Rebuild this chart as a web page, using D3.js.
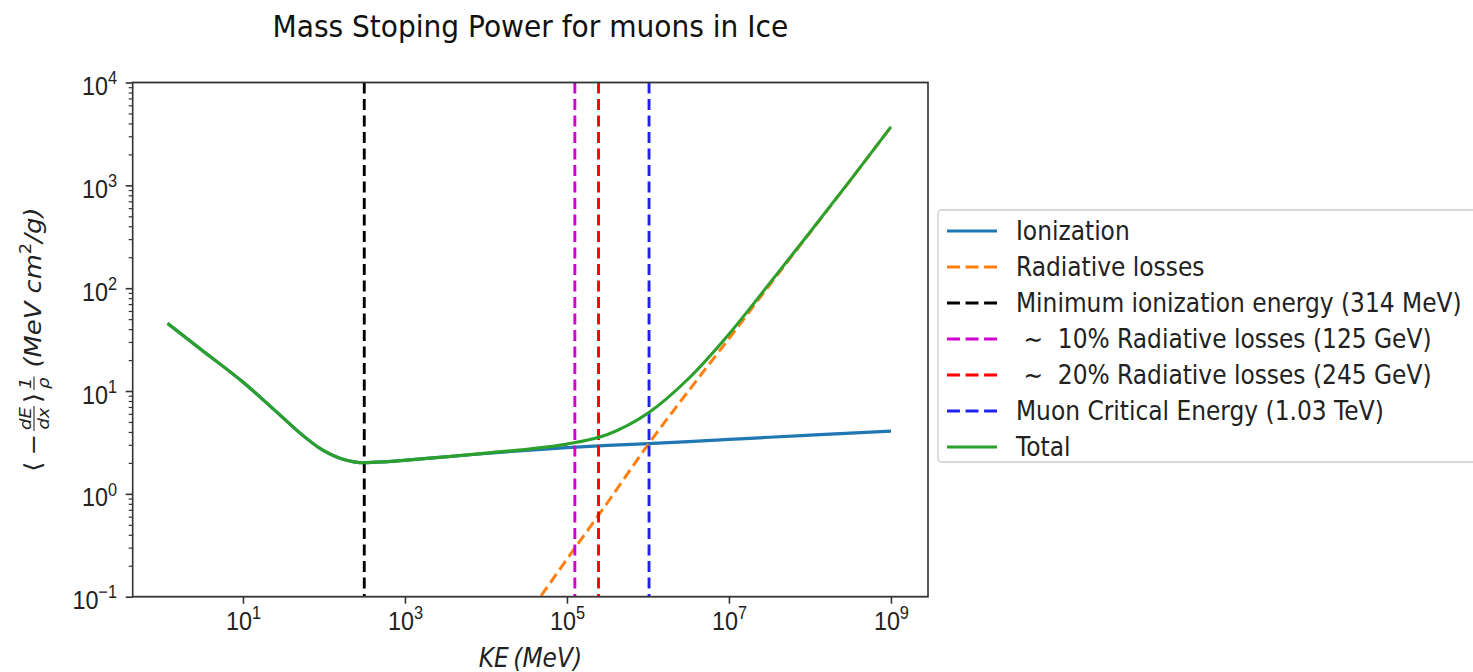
<!DOCTYPE html>
<html><head><meta charset="utf-8">
<script src="https://cdn.jsdelivr.net/npm/d3@7"></script>
<style>body{margin:0;background:#fff;} svg{display:block;font-family:"DejaVu Sans",sans-serif;}</style>
</head><body><svg id="c" width="1473" height="672"></svg>
<script>
// ---- data ----
const keIon = [1.17, 3.16, 10, 23.7, 61.1, 84.3, 118.6, 166.7, 234, 314, 562, 1050, 3160, 1e4, 3.16e4, 1e5, 3.16e5, 1e6, 3.16e6, 1e7, 3.16e7, 1e8, 3.16e8, 1e9];
const ionization = [45.5, 24.7, 12.2, 6.70, 3.45, 2.85, 2.44, 2.18, 2.05, 2.01, 2.05, 2.13, 2.29, 2.47, 2.65, 2.82, 2.96, 3.08, 3.22, 3.38, 3.55, 3.72, 3.90, 4.07];
const total = [45.5, 24.7, 12.2, 6.70, 3.45, 2.85, 2.44, 2.18, 2.05, 2.01, 2.05, 2.13, 2.29, 2.49, 2.71, 3.05, 3.78, 6.09, 13.2, 35.8, 111, 351, 1126, 3704];
const keRad = [1e4, 3.16e4, 1e5, 3.16e5, 1e6, 3.16e6, 1e7, 3.16e7, 1e8, 3.16e8, 1e9];
const radiative = [0.0178, 0.0645, 0.232, 0.822, 3.01, 10.0, 32.4, 107, 347, 1122, 3700];
const vlineEnergies = [314, 1.25e5, 2.45e5, 1.03e6];
const xTicks = [1e1, 1e3, 1e5, 1e7, 1e9];
const yTicks = [1e-1, 1e0, 1e1, 1e2, 1e3, 1e4];
const legendLabels = ["Ionization", "Radiative losses", "Minimum ionization energy (314 MeV)",
  " \u223C  10% Radiative losses (125 GeV)", " \u223C  20% Radiative losses (245 GeV)",
  "Muon Critical Energy (1.03 TeV)", "Total"];
const titleText = "Mass Stoping Power for muons in Ice";

// ---- styles ----
const C = {ion:"#1f77b4", rad:"#ff7f0e", k:"#000000", m:"#d000d0", r:"#ff0000", b:"#2020f0", tot:"#2ca02c"};
const vColors = [C.k, C.m, C.r, C.b];
const F = 0.905;               // horizontal compression of the original picture
const L = 132.7/F, R = 928/F, T = 82.5, B = 596.7;
const FS = 25.8;
const LWD = 3.2;
const DASH = "11,5.5";

const svg = d3.select("#c");
const g = svg.append("g").attr("transform", `scale(${F},1)`);

const minDom = Math.pow(10,-0.362), maxDom = Math.pow(10,9.457);
const x = d3.scaleLog().domain([minDom, maxDom]).range([L, R]);
const y = d3.scaleLog().domain([0.1, 1e4]).range([B, T]);

g.append("defs").append("clipPath").attr("id","clip")
 .append("rect").attr("x",L).attr("y",T).attr("width",R-L).attr("height",B-T);

const line = d3.line().x(d=>x(d[0])).y(d=>y(d[1])).curve(d3.curveMonotoneX);
const plot = g.append("g").attr("clip-path","url(#clip)");

plot.append("path").datum(d3.zip(keIon, ionization)).attr("d", line)
  .attr("fill","none").attr("stroke",C.ion).attr("stroke-width",LWD);
plot.append("path").datum(d3.zip(keRad, radiative)).attr("d", line)
  .attr("fill","none").attr("stroke",C.rad).attr("stroke-width",LWD).attr("stroke-dasharray",DASH);
plot.selectAll(".vl").data(vlineEnergies).enter().append("line")
  .attr("x1",d=>x(d)).attr("x2",d=>x(d)).attr("y1",T).attr("y2",B)
  .attr("stroke",(d,i)=>vColors[i]).attr("stroke-width",LWD).attr("stroke-dasharray",DASH);
plot.append("path").datum(d3.zip(keIon, total)).attr("d", line)
  .attr("fill","none").attr("stroke",C.tot).attr("stroke-width",LWD);

// ---- axes ----
const axisColor = "#333";
const gx = g.append("g").attr("transform",`translate(0,${B})`)
  .call(d3.axisBottom(x).tickValues(xTicks).tickSize(7).tickFormat(""));
gx.select(".domain").remove();
gx.selectAll(".tick line").attr("stroke",axisColor).attr("stroke-width",1.6/F);
gx.selectAll(".tick").append("text")
  .attr("fill","#222").attr("text-anchor","middle").attr("y",33).attr("font-size",FS)
  .each(function(d){
    const t = d3.select(this);
    t.append("tspan").text("10");
    t.append("tspan").attr("font-size",FS*0.7).attr("dy",-FS*0.42).text(Math.round(Math.log10(d)).toString().replace("-","\u2212"));
  });

const yMinor = [];
for (let e=-1; e<4; e++) for (let k=2; k<10; k++) yMinor.push(k*Math.pow(10,e));
const gyMinor = g.append("g").attr("transform",`translate(${L},0)`)
  .call(d3.axisLeft(y).tickValues(yMinor).tickSize(4/F).tickFormat(""));
gyMinor.select(".domain").remove();
gyMinor.selectAll(".tick line").attr("stroke",axisColor).attr("stroke-width",1.2);

const gy = g.append("g").attr("transform",`translate(${L},0)`)
  .call(d3.axisLeft(y).tickValues(yTicks).tickSize(7/F).tickFormat(""));
gy.select(".domain").remove();
gy.selectAll(".tick line").attr("stroke",axisColor).attr("stroke-width",1.6);
gy.selectAll(".tick").append("text")
  .attr("fill","#222").attr("text-anchor","end").attr("x",(117-132.7)/F).attr("y",12).attr("font-size",FS)
  .each(function(d){
    const t = d3.select(this);
    t.append("tspan").text("10");
    t.append("tspan").attr("font-size",FS*0.7).attr("dy",-FS*0.42).text(Math.round(Math.log10(d)).toString().replace("-","\u2212"));
  });

// frame
g.append("rect").attr("x",L).attr("y",T).attr("width",R-L).attr("height",B-T)
  .attr("fill","none").attr("stroke",axisColor).attr("stroke-width",1.8);

// ---- title ----
g.append("text").attr("x",(L+R)/2).attr("y",37).attr("text-anchor","middle")
  .attr("font-size",31).attr("fill","#111").text(titleText);

// ---- x label ----
g.append("text").attr("x",(L+R)/2).attr("y",667).attr("text-anchor","middle")
  .attr("font-size",FS).attr("font-style","italic").attr("fill","#222").text("KE\u2009(MeV)");

// ---- y label (mathtext-like) ----
const gl = g.append("g").attr("transform",`translate(${41/F},${(T+B)/2}) rotate(-90)`);
const inner = gl.append("g");
let cur = 0;
function piece(txt, opts={}){
  const s = (opts.scale||1)*FS;
  const t = inner.append("text").attr("x",cur).attr("y",opts.dy||0).attr("font-size",s)
    .attr("fill","#222").attr("font-style",opts.italic?"italic":"normal").text(txt);
  cur += t.node().getComputedTextLength() + (opts.gap||0);
  return t;
}
function frac(num, den, after){
  const s = FS*0.7;
  const a = inner.append("text").attr("font-size",s).attr("font-style","italic").attr("fill","#222").text(num);
  const b = inner.append("text").attr("font-size",s).attr("font-style","italic").attr("fill","#222").text(den);
  const w = Math.max(a.node().getComputedTextLength(), b.node().getComputedTextLength()) + 2;
  a.attr("x",cur+w/2).attr("text-anchor","middle").attr("y",-FS*0.42);
  b.attr("x",cur+w/2).attr("text-anchor","middle").attr("y",FS*0.36);
  inner.append("line").attr("x1",cur).attr("x2",cur+w).attr("y1",-FS*0.3).attr("y2",-FS*0.3)
    .attr("stroke","#222").attr("stroke-width",1.2);
  cur += w + after;
}
piece("\u27E8", {gap:6});
piece("\u2212", {gap:3});
frac("dE","dx", 3);
piece("\u27E9", {gap:3});
frac("1","\u03C1", 9);
piece("(MeV cm", {italic:true});
piece("2", {scale:0.7, dy:-FS*0.42});
piece("/g)", {italic:true});
inner.attr("transform",`translate(${-cur/2},0)`);

// ---- legend ----
const LX = 938/F, LY = 210, LW = (1490-938)/F, LH = 252;
const lg = g.append("g");
lg.append("rect").attr("x",LX).attr("y",LY).attr("width",LW).attr("height",LH)
  .attr("rx",4).attr("fill","#fff").attr("fill-opacity",0.8).attr("stroke","#cccccc").attr("stroke-width",1.5);
const legColors = [C.ion, C.rad, C.k, C.m, C.r, C.b, C.tot];
const legDash = [null, "14.3,6.2", "14.3,6.2", "14.3,6.2", "14.3,6.2", "14.3,6.2", null];
legendLabels.forEach((lab,i)=>{
  const yy = 231 + i*36;
  lg.append("line").attr("x1",947/F).attr("x2",997/F).attr("y1",yy).attr("y2",yy)
    .attr("stroke",legColors[i]).attr("stroke-width",LWD).attr("stroke-dasharray",legDash[i]);
  lg.append("text").attr("x",1016/F).attr("y",yy+9).attr("font-size",FS).attr("fill","#222")
    .attr("xml:space","preserve").style("white-space","pre").text(lab);
});
</script></body></html>
